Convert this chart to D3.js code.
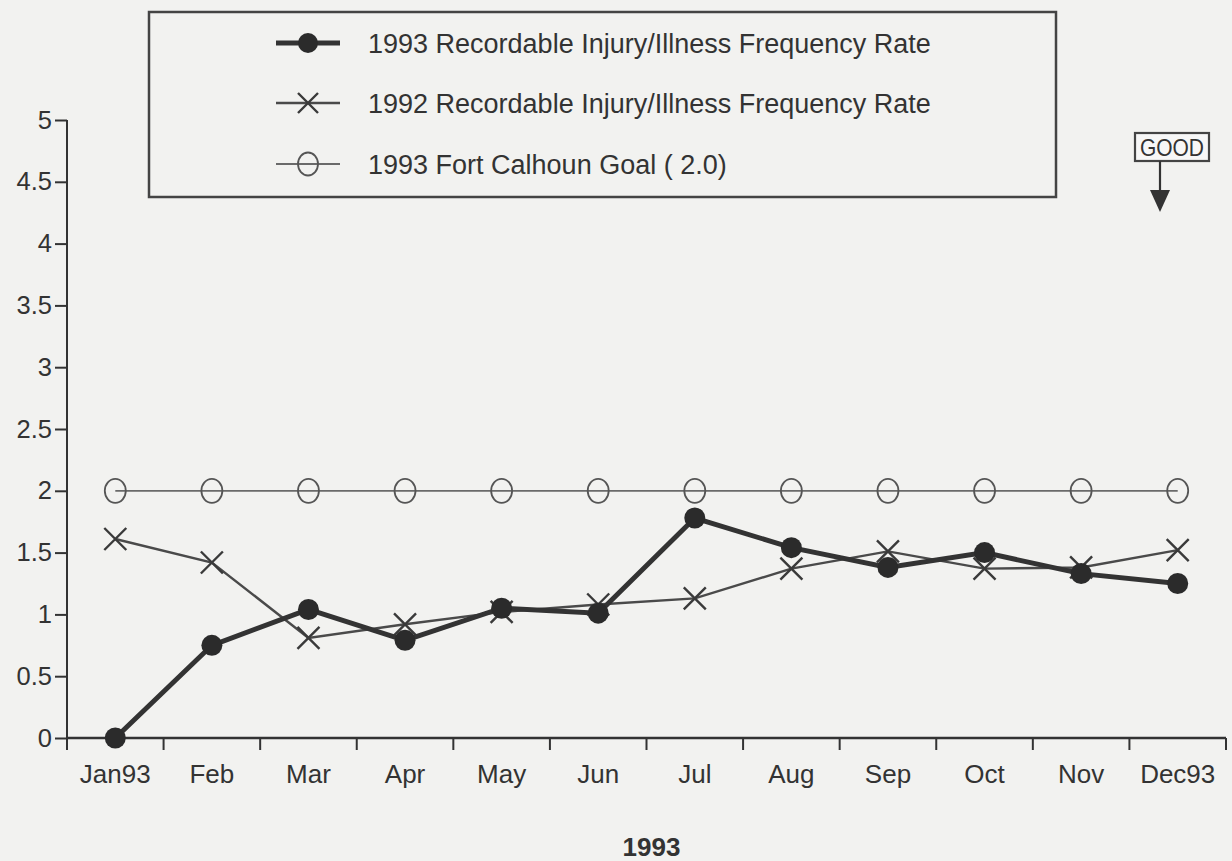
<!DOCTYPE html>
<html>
<head>
<meta charset="utf-8">
<script src="https://cdn.jsdelivr.net/npm/d3@7"></script>
<style>
  html, body { margin: 0; padding: 0; background: #f2f2f0; }
  svg { display: block; font-family: "Liberation Sans", Arial, sans-serif; }
</style>
</head>
<body>
<div id="chart"></div>
<script>
// data
const months = ["Jan93", "Feb", "Mar", "Apr", "May", "Jun", "Jul", "Aug", "Sep", "Oct", "Nov", "Dec93"]
const rate1993 = [0, 0.75, 1.04, 0.79, 1.05, 1.01, 1.78, 1.54, 1.38, 1.50, 1.33, 1.25]
const rate1992 = [1.61, 1.42, 0.81, 0.92, 1.02, 1.08, 1.13, 1.37, 1.51, 1.37, 1.38, 1.52]
const goal1993 = [2, 2, 2, 2, 2, 2, 2, 2, 2, 2, 2, 2]
const yTicks = [0, 0.5, 1, 1.5, 2, 2.5, 3, 3.5, 4, 4.5, 5]
const legendLabels = [
  "1993 Recordable Injury/Illness Frequency Rate",
  "1992 Recordable Injury/Illness Frequency Rate",
  "1993 Fort Calhoun Goal ( 2.0)"
]
const xTitle = "1993"

const W = 1232, H = 861
const plotL = 67, plotR = 1226, plotT = 120, plotB = 738
const ink = "#333"

const svg = d3.select("#chart").append("svg")
  .attr("width", W).attr("height", H)

const x = d3.scaleBand().domain(months).range([plotL, plotR]).padding(0)
const cx = d => x(d) + x.bandwidth() / 2
const y = d3.scaleLinear().domain([0, 5]).range([plotB, plotT])

// y axis
const yAxis = svg.append("g")
  .attr("transform", `translate(${plotL},0)`)
  .call(d3.axisLeft(y).tickValues(yTicks).tickFormat(d3.format("")).tickSize(12).tickPadding(3))
yAxis.select(".domain").attr("d", `M0,${plotT}V${plotB + 12}`)
yAxis.selectAll("line, path").attr("stroke", ink).attr("stroke-width", 2)
yAxis.selectAll("text").attr("font-size", 25.5).attr("fill", ink)

// x axis: labels centred in bands, ticks on band edges
const xAxis = svg.append("g")
  .attr("transform", `translate(0,${plotB})`)
  .call(d3.axisBottom(x).tickSize(0).tickPadding(27))
xAxis.select(".domain").attr("d", `M${plotL},0H${plotR}`).attr("stroke", ink).attr("stroke-width", 2.5)
xAxis.selectAll("text").attr("font-size", 26).attr("fill", ink)
xAxis.selectAll("line.edge")
  .data(months.slice(1).map(d => x(d)).concat([plotR]))
  .enter().append("line").attr("class", "edge")
  .attr("x1", d => d).attr("x2", d => d)
  .attr("y1", 0).attr("y2", 12)
  .attr("stroke", ink).attr("stroke-width", 2)

svg.append("text")
  .attr("x", (plotL + plotR) / 2 + 5).attr("y", 856)
  .attr("text-anchor", "middle")
  .attr("font-size", 26).attr("font-weight", "bold").attr("fill", ink)
  .text(xTitle)

const line = d3.line().x((d, i) => cx(months[i])).y(d => y(d))

// goal line
svg.append("path").datum(goal1993)
  .attr("d", line).attr("fill", "none")
  .attr("stroke", "#6a6a6a").attr("stroke-width", 1.8)
svg.selectAll("ellipse.goal").data(goal1993).enter().append("ellipse")
  .attr("class", "goal")
  .attr("cx", (d, i) => cx(months[i])).attr("cy", d => y(d))
  .attr("rx", 10.5).attr("ry", 12)
  .attr("fill", "none").attr("stroke", "#555").attr("stroke-width", 1.8)

// 1992 series
svg.append("path").datum(rate1992)
  .attr("d", line).attr("fill", "none")
  .attr("stroke", "#4a4a4a").attr("stroke-width", 2.4)
const cross = (g, s) => g.attr("d", `M${-s},${-s}L${s},${s}M${-s},${s}L${s},${-s}`)
svg.selectAll("path.x92").data(rate1992).enter().append("path")
  .attr("class", "x92")
  .attr("transform", (d, i) => `translate(${cx(months[i])},${y(d)})`)
  .call(cross, 11)
  .attr("stroke", "#3a3a3a").attr("stroke-width", 2.4).attr("fill", "none")

// 1993 series
svg.append("path").datum(rate1993)
  .attr("d", line).attr("fill", "none")
  .attr("stroke", ink).attr("stroke-width", 5)
svg.selectAll("circle.r93").data(rate1993).enter().append("circle")
  .attr("class", "r93")
  .attr("cx", (d, i) => cx(months[i])).attr("cy", d => y(d))
  .attr("r", 10.5).attr("fill", "#2b2b2b")

// legend
const lg = svg.append("g")
lg.append("rect")
  .attr("x", 149).attr("y", 12).attr("width", 907).attr("height", 185)
  .attr("fill", "none").attr("stroke", "#444").attr("stroke-width", 2.5)
const rowY = [43, 103, 164]
const rows = lg.selectAll("g.row").data(legendLabels).enter().append("g")
  .attr("class", "row")
  .attr("transform", (d, i) => `translate(0,${rowY[i]})`)
rows.append("line")
  .attr("x1", 276).attr("x2", 340)
  .attr("stroke", (d, i) => ["#333", "#4a4a4a", "#6a6a6a"][i])
  .attr("stroke-width", (d, i) => [5, 2.4, 1.8][i])
rows.append("text")
  .attr("x", 368).attr("y", 9.5)
  .attr("font-size", 27).attr("fill", ink)
  .text(d => d)
lg.append("circle").attr("cx", 308).attr("cy", rowY[0]).attr("r", 10).attr("fill", "#2b2b2b")
lg.append("path").attr("transform", `translate(308,${rowY[1]})`)
  .call(cross, 10).attr("stroke", "#3a3a3a").attr("stroke-width", 2.4)
lg.append("ellipse").attr("cx", 308).attr("cy", rowY[2])
  .attr("rx", 10).attr("ry", 11.5)
  .attr("fill", "none").attr("stroke", "#555").attr("stroke-width", 1.8)

// GOOD marker
const good = svg.append("g")
good.append("rect")
  .attr("x", 1135).attr("y", 133).attr("width", 74).attr("height", 28)
  .attr("fill", "#f7f7f7").attr("stroke", "#444").attr("stroke-width", 2.2)
good.append("text")
  .attr("x", 1172).attr("y", 156)
  .attr("text-anchor", "middle").attr("font-size", 24).attr("fill", ink)
  .attr("textLength", 64).attr("lengthAdjust", "spacingAndGlyphs")
  .text("GOOD")
good.append("line")
  .attr("x1", 1160).attr("x2", 1160).attr("y1", 161).attr("y2", 192)
  .attr("stroke", "#333").attr("stroke-width", 2.2)
good.append("path")
  .attr("d", "M1150,190L1170,190L1160,212Z")
  .attr("fill", "#333")
</script>
</body>
</html>
